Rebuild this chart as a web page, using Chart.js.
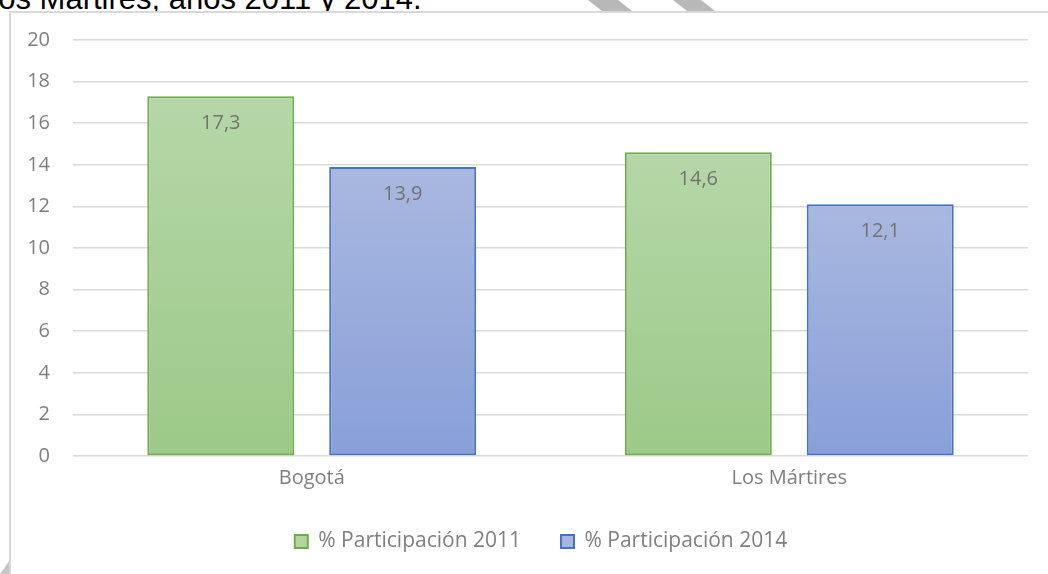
<!DOCTYPE html>
<html lang="es">
<head>
<meta charset="utf-8">
<script src="https://cdn.jsdelivr.net/npm/chart.js@4.4.1/dist/chart.umd.min.js"></script>
<style>
    html, body { margin: 0; padding: 0; background: #fff; overflow: hidden; }
    body { width: 1048px; height: 574px; position: relative; }
    .titulo {
        position: absolute; left: -19px; top: -16px;
        font: 31px/30px "Liberation Sans", Arial, sans-serif; color: #000;
        white-space: nowrap;
    }
    .marca { position: absolute; top: 0; background: #b8b8b8; }
    .caja {
        position: absolute; left: 9px; top: 11px;
        width: 1060px; height: 580px;
        border-top: 2px solid #d9d9d9; border-left: 2px solid #d9d9d9;
        background: #fff;
    }
    .caja canvas { position: absolute; left: 0; top: 0; }
</style>
</head>
<body>
<div class="titulo">Los Mártires, años 2011 y 2014.</div>
<div class="marca" style="left:588px;width:44px;height:11px;clip-path:polygon(0 0,30px 0,44px 11px,14px 11px);"></div>
<div class="marca" style="left:673px;width:42px;height:11px;clip-path:polygon(0 0,28px 0,42px 11px,14px 11px);"></div>
<div class="marca" style="left:0;top:560px;width:10px;height:14px;background:#c4c4c4;clip-path:polygon(0 14px,10px 0,10px 14px);"></div>
<div class="caja">
    <canvas id="grafico" width="1037" height="561"></canvas>
</div>
<script>
// Datos
const categorias = ['Bogotá', 'Los Mártires'];
const participacion2011 = [17.3, 14.6];
const participacion2014 = [13.9, 12.1];
const etiquetasSerie = ['% Participación 2011', '% Participación 2014'];
const ejeY = { min: 0, max: 20, paso: 2 };

const fuente = '"Open Sans", "Noto Sans", sans-serif';
const grisTexto = '#7f7f7f';

// Degradado vertical por barra (estilo Excel)
function degradado(arriba, abajo) {
    return (ctx) => {
        const chart = ctx.chart;
        if (!chart.chartArea || ctx.raw === undefined) return arriba;
        const y = chart.scales.y;
        const y0 = y.getPixelForValue(ctx.raw);
        const y1 = y.getPixelForValue(0);
        const g = chart.ctx.createLinearGradient(0, y0, 0, y1);
        g.addColorStop(0, arriba);
        g.addColorStop(1, abajo);
        return g;
    };
}

// Etiquetas de valor dentro de las barras
const etiquetasValor = {
    id: 'etiquetasValor',
    afterDatasetsDraw(chart) {
        const c = chart.ctx;
        c.save();
        c.font = '20px ' + fuente;
        c.fillStyle = '#767171';
        c.textAlign = 'center';
        c.textBaseline = 'middle';
        chart.data.datasets.forEach((ds, i) => {
            chart.getDatasetMeta(i).data.forEach((bar, j) => {
                const txt = ds.data[j].toFixed(1).replace('.', ',');
                c.fillText(txt, bar.x, bar.y + 27);
            });
        });
        c.restore();
    }
};

// La leyenda va un poco a la derecha del centro
const moverLeyenda = {
    id: 'moverLeyenda',
    afterLayout(chart) {
        if (chart.legend) chart.legend.left += 43;
    }
};

new Chart(document.getElementById('grafico'), {
    type: 'bar',
    data: {
        labels: categorias,
        datasets: [{
            label: etiquetasSerie[0],
            data: participacion2011,
            backgroundColor: degradado('#b5d7a8', '#9cc988'),
            borderColor: '#70ad47',
            borderWidth: 2,
            borderSkipped: false,
            categoryPercentage: 0.762,
            barPercentage: 0.808
        }, {
            label: etiquetasSerie[1],
            data: participacion2014,
            backgroundColor: degradado('#a9b8e0', '#889fd8'),
            borderColor: '#4472c4',
            borderWidth: 2,
            borderSkipped: false,
            categoryPercentage: 0.762,
            barPercentage: 0.808
        }]
    },
    options: {
        responsive: false,
        animation: false,
        devicePixelRatio: 1,
        layout: { padding: { top: 27, right: 20, bottom: 12, left: 0 } },
        plugins: {
            tooltip: { enabled: false },
            legend: {
                position: 'bottom',
                labels: {
                    color: grisTexto,
                    font: { family: fuente, size: 21 },
                    boxWidth: 13,
                    boxHeight: 13,
                    padding: 40,
                    generateLabels: () => [
                        { text: etiquetasSerie[0], fillStyle: '#b3d5a4', strokeStyle: '#70ad47', lineWidth: 2, fontColor: grisTexto, datasetIndex: 0 },
                        { text: etiquetasSerie[1], fillStyle: '#a6b6df', strokeStyle: '#4472c4', lineWidth: 2, fontColor: grisTexto, datasetIndex: 1 }
                    ]
                }
            }
        },
        scales: {
            x: {
                grid: { display: false, drawTicks: false },
                border: { display: false },
                ticks: { color: grisTexto, font: { family: fuente, size: 20 }, padding: 10 },
                afterFit: (s) => { s.height = 35; }
            },
            y: {
                min: ejeY.min,
                max: ejeY.max,
                grid: { color: '#d9d9d9', lineWidth: 1.5, drawTicks: false },
                border: { display: false },
                ticks: { stepSize: ejeY.paso, color: grisTexto, font: { family: fuente, size: 20 }, padding: 23 },
                afterFit: (s) => { s.width = 62; s.paddingTop = 0; s.paddingBottom = 0; }
            }
        }
    },
    plugins: [etiquetasValor, moverLeyenda]
});
</script>
</body>
</html>
